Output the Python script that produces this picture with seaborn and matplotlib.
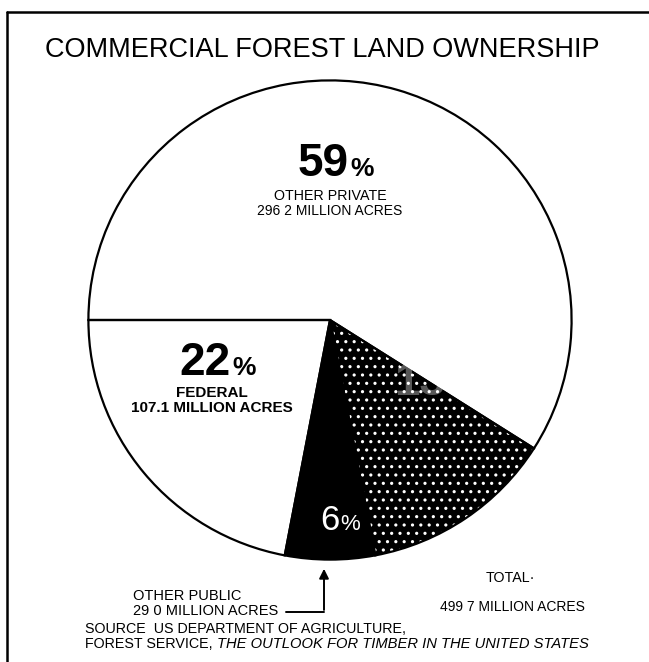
import matplotlib
matplotlib.use("Agg")
import matplotlib.pyplot as plt
import seaborn as sns
from matplotlib.lines import Line2D
from matplotlib.patches import FancyArrowPatch

# ---- data ----
owners = ["Other private", "Forest industry", "Other public", "Federal"]
percent = [59, 13, 6, 22]
million_acres = [296.2, 67.4, 29.0, 107.1]
total_acres = "499 7"
title = "COMMERCIAL FOREST LAND OWNERSHIP"
source_1 = "SOURCE  US DEPARTMENT OF AGRICULTURE,"
source_2a = "FOREST SERVICE, "
source_2b = "THE OUTLOOK FOR TIMBER IN THE UNITED STATES"

sns.set_theme(style="white")
plt.rcParams["font.family"] = ["Liberation Sans", "DejaVu Sans"]
plt.rcParams["text.color"] = "black"
plt.rcParams["hatch.linewidth"] = 1.1

W, H = 649, 662
fig = plt.figure(figsize=(W / 100, H / 100), dpi=100)
fig.patch.set_facecolor("white")

def fx(x):
    return x / W

def fy(y):
    return 1 - y / H

# pie axes: centre (330, 320) px, radii 244 x 242 px
cx, cy, rx, ry = 330, 320, 244, 242
ax = fig.add_axes([fx(cx - rx), fy(cy + ry), 2 * rx / W, 2 * ry / H])
ax.set_facecolor("none")

faces = ["white", "black", "black", "white"]
hatches = ["", "..", "", ""]
wedges, _ = ax.pie(percent, startangle=180, counterclock=False, colors=faces,
                   hatch=hatches, radius=1.0,
                   wedgeprops=dict(linewidth=0, edgecolor="white"))
# outline pass
outl, _ = ax.pie(percent, startangle=180, counterclock=False, radius=1.0,
                 colors=["none"] * len(percent),
                 wedgeprops=dict(linewidth=1.6, edgecolor="black", fill=False))
ax.set_xlim(-1.01, 1.01)
ax.set_ylim(-1.01, 1.01)
ax.set_aspect("auto")
ax.axis("off")

# frame
fig.add_artist(Line2D([fx(7), fx(649)], [fy(12), fy(12)], color="black", lw=1.8))
fig.add_artist(Line2D([fx(7), fx(7)], [fy(12), fy(662)], color="black", lw=1.8))

# title
fig.text(fx(322), fy(50), title, ha="center", va="center", fontsize=19.5)

# labels
def big(xr, y, num, color="black", weight="bold", size=33, psize=19):
    fig.text(fx(xr), fy(y), num, ha="right", va="baseline", fontsize=size,
             fontweight=weight, color=color)
    fig.text(fx(xr + 1), fy(y), "%", ha="left", va="baseline", fontsize=psize,
             fontweight=weight, color=color)

big(349, 176, str(percent[0]))
fig.text(fx(330), fy(196), "OTHER PRIVATE", ha="center", va="center", fontsize=10.3)
fig.text(fx(330), fy(211), f"{str(million_acres[0]).replace('.', ' ')} MILLION ACRES",
         ha="center", va="center", fontsize=10)

big(231, 375, str(percent[3]))
fig.text(fx(212), fy(393), "FEDERAL", ha="center", va="center", fontsize=11,
         fontweight="bold")
fig.text(fx(212), fy(408), f"{million_acres[3]} MILLION ACRES", ha="center",
         va="center", fontsize=11, fontweight="bold")

big(339, 530, str(percent[2]), color="white", weight="normal", size=25, psize=16)
fig.text(fx(440), fy(395), f"{percent[1]}%", ha="center", va="baseline",
         fontsize=33, fontweight="bold", color="white", alpha=0.35)

fig.text(fx(486), fy(578), "TOTAL\u00b7", ha="left", va="center", fontsize=10.3)
fig.text(fx(440), fy(607), f"{total_acres} MILLION ACRES", ha="left",
         va="center", fontsize=10)

fig.text(fx(133), fy(596), "OTHER PUBLIC", ha="left", va="center", fontsize=10.5)
fig.text(fx(133), fy(611), f"{str(million_acres[2]).replace('.', ' ')} MILLION ACRES",
         ha="left", va="center", fontsize=10.5)
fig.add_artist(Line2D([fx(286), fx(324)], [fy(612), fy(612)], color="black", lw=1.4))
fig.add_artist(FancyArrowPatch((fx(324), fy(612.7)), (fx(324), fy(566)),
                               transform=fig.transFigure, arrowstyle="-|>",
                               mutation_scale=14, lw=1.4, color="black"))

fig.text(fx(85), fy(629), source_1, ha="left", va="center", fontsize=10.3)
t = fig.text(fx(85), fy(644), source_2a, ha="left", va="center", fontsize=10.3)
fig.canvas.draw()
bb = t.get_window_extent()
fig.text(bb.x1 / W, fy(644), source_2b, ha="left", va="center", fontsize=10.6,
         fontstyle="italic")

fig.savefig("out.png", dpi=100, facecolor="white")
